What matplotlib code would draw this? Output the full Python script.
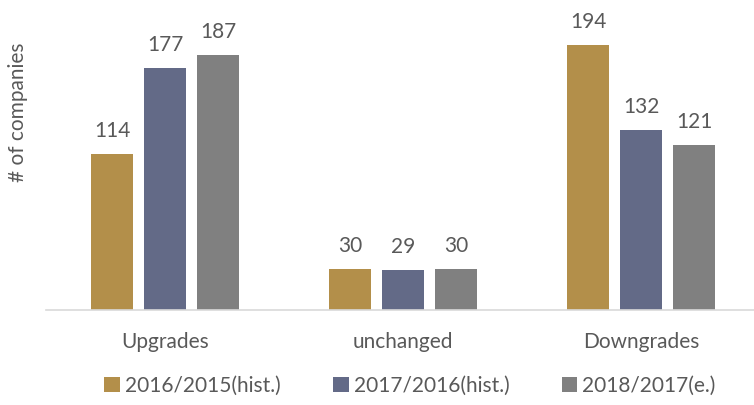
import matplotlib
matplotlib.use("Agg")
import matplotlib.pyplot as plt
from matplotlib.patches import Patch
import numpy as np

categories = ["Upgrades", "unchanged", "Downgrades"]
series_names = ["2016/2015(hist.)", "2017/2016(hist.)", "2018/2017(e.)"]
s2016 = [114, 30, 194]
s2017 = [177, 29, 132]
s2018 = [187, 30, 121]
colors = ["#B38F4A", "#636A87", "#808080"]

plt.rcParams['font.family'] = ['Lato', 'DejaVu Sans']
W, H = 754, 405
fig = plt.figure(figsize=(W/100, H/100), dpi=100)
ax = fig.add_axes([46/W, 1 - 310/H, 714/W, 310/H])

x = np.arange(len(categories))
width = 0.1765
step = 0.2227
text_color = "#595959"
for i, (vals, c) in enumerate(zip([s2016, s2017, s2018], colors)):
    pos = x + (i - 1) * step
    ax.bar(pos, vals, width=width, color=c)
    for xb, v in zip(pos, vals):
        ax.text(xb, v + 9.5, str(v), ha='center', va='bottom', fontsize=15, color=text_color)

ax.set_xlim(-0.5, 2.5)
ax.set_ylim(0, 227)
for s in ['top', 'right', 'left']:
    ax.spines[s].set_visible(False)
ax.spines['bottom'].set_color('#D9D9D9')
ax.spines['bottom'].set_linewidth(1.2)
ax.set_yticks([])
ax.set_xticks(x)
ax.set_xticklabels(categories, fontsize=15, color=text_color)
ax.tick_params(axis='x', length=0, pad=16)

fig.text(18/W, 1 - 112/H, "# of companies", rotation=90, ha='center', va='center',
         fontsize=15, color=text_color)

handles = [Patch(facecolor=c, edgecolor='none') for c in colors]
fig.legend(handles, series_names, loc='center', bbox_to_anchor=(410/W, 1 - 386/H),
           ncol=3, frameon=False, fontsize=15, labelcolor=text_color,
           handlelength=0.75, handleheight=0.75, handletextpad=0.25, columnspacing=2.5)

fig.savefig("out.png", dpi=100)
